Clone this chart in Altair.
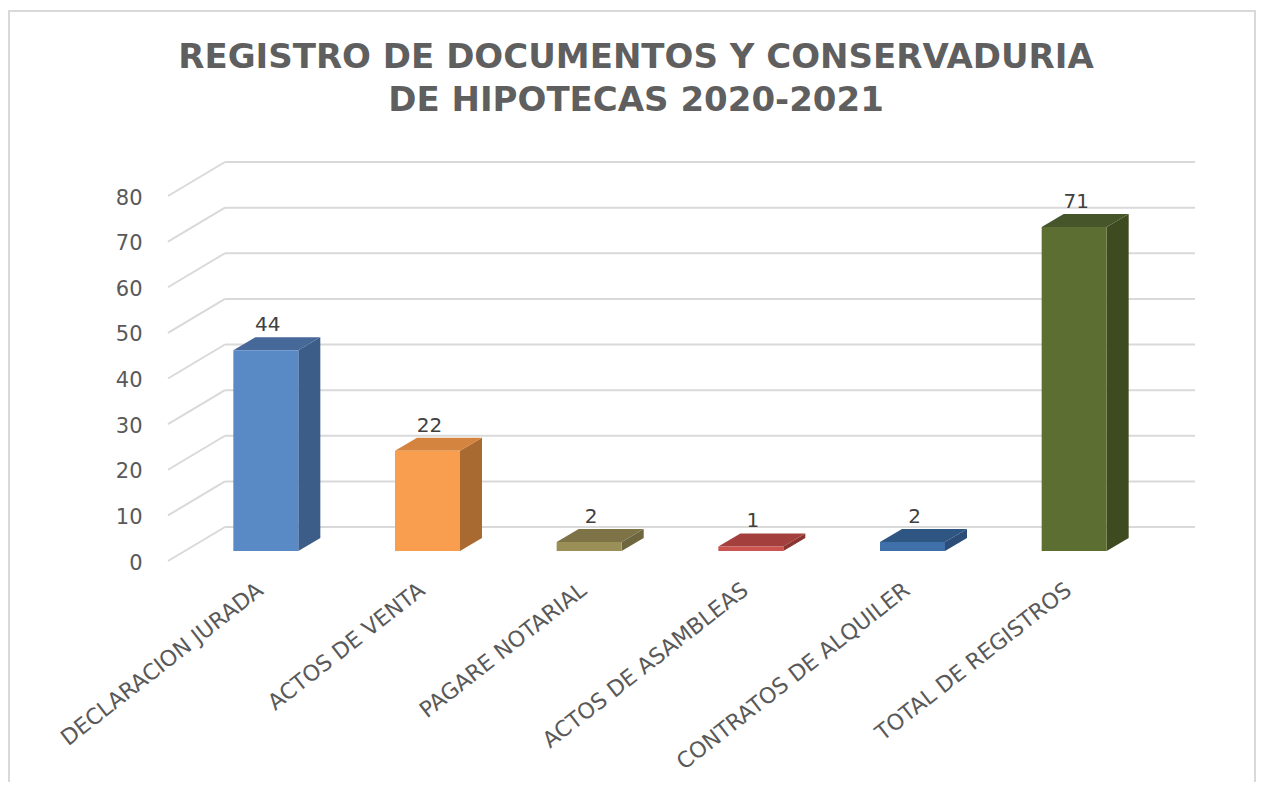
import json
import altair as alt
import pandas as pd

# ---------------- data ----------------
categories = ["DECLARACION JURADA", "ACTOS DE VENTA", "PAGARE NOTARIAL",
              "ACTOS DE ASAMBLEAS", "CONTRATOS DE ALQUILER", "TOTAL DE REGISTROS"]
values = [44, 22, 2, 1, 2, 71]
y_ticks = [0, 10, 20, 30, 40, 50, 60, 70, 80]
title_lines = ["REGISTRO DE DOCUMENTOS Y CONSERVADURIA", "DE HIPOTECAS 2020-2021"]

front_colors = ["#5a8ac6", "#f99d4f", "#9a9057", "#cc5450", "#4070aa", "#5c6e31"]
top_colors = ["#46699a", "#d5843f", "#7d7347", "#a3403d", "#2f5582", "#46562a"]
side_colors = ["#3b5d87", "#a96a31", "#6d663f", "#8b3533", "#2b4d78", "#3e4b20"]

# ---------------- geometry (pixels -> data units) ----------------
PX_X = 161.67          # pixels per category slot
PX_Y = 4.5625          # pixels per value unit
W = round(6 * PX_X)
H = round(80 * PX_Y)
WALL_DX = 57 / PX_X    # depth of the back wall
WALL_DY = 34 / PX_Y
BAR_SHIFT_X = 17 / PX_X
BAR_SHIFT_Y = 10 / PX_Y
BAR_HALF = 32.5 / PX_X
SIDE_DX = 22 / PX_X
SIDE_DY = 13 / PX_Y
LABEL_POS = 0.53

bars, side, top = [], [], []
for i, (c, v) in enumerate(zip(categories, values)):
    x0 = i + 0.5 + BAR_SHIFT_X - BAR_HALF
    x1 = i + 0.5 + BAR_SHIFT_X + BAR_HALF
    y0 = BAR_SHIFT_Y
    y1 = v + BAR_SHIFT_Y
    bars.append(dict(cat=c, v=v, x0=x0, x1=x1, y0=y0, y1=y1,
                     xc=(x0 + x1) / 2 + 2 / PX_X, yt=y1 + SIDE_DY,
                     c=front_colors[i]))
    side.append(dict(cat=c, x=x1, lo=y0, hi=y1, c=side_colors[i]))
    side.append(dict(cat=c, x=x1 + SIDE_DX, lo=y0 + SIDE_DY, hi=y1 + SIDE_DY, c=side_colors[i]))
    top.append(dict(cat=c, y=y1, xa=x0, xb=x1, c=top_colors[i]))
    top.append(dict(cat=c, y=y1 + SIDE_DY, xa=x0 + SIDE_DX, xb=x1 + SIDE_DX, c=top_colors[i]))

bars = pd.DataFrame(bars)
side = pd.DataFrame(side)
top = pd.DataFrame(top)
grid = pd.DataFrame(dict(t=y_ticks))
grid["front_x"] = 0.0
grid["back_x"] = WALL_DX
grid["end_x"] = 6 + WALL_DX
grid["back_t"] = grid["t"] + WALL_DY

xs = alt.Scale(domain=[0, 6], nice=False, zero=False)
ys = alt.Scale(domain=[0, 80], nice=False, zero=False)

label_expr = json.dumps(categories) + f"[round(datum.value - {LABEL_POS})]"
x_axis = alt.Axis(values=[i + LABEL_POS for i in range(6)], labelExpr=label_expr,
                  title=None, grid=False, ticks=False, domain=False,
                  labelAngle=-38, labelAlign="right", labelBaseline="top",
                  labelPadding=18, labelFont="DejaVu Sans", labelFontSize=22,
                  labelColor="#595959", labelOverlap=False, labelBound=False,
                  labelFlush=False, labelLimit=0)
y_axis = alt.Axis(values=y_ticks, title=None, grid=False, ticks=False, domain=False,
                  labelPadding=26, labelFont="DejaVu Sans", labelFontSize=21,
                  labelColor="#595959", labelOffset=2, labelOverlap=False,
                  labelBound=False, labelFlush=False)

border = alt.Chart(alt.Data(values=[{}])).mark_rect(
    filled=False, stroke="#d9d9d9", strokeWidth=2
).encode(x=alt.value(-159), x2=alt.value(W + 117), y=alt.value(-185), y2=alt.value(H + 240))

grid_back = alt.Chart(grid).mark_rule(color="#d9d9d9", strokeWidth=2).encode(
    x=alt.X("back_x:Q", scale=xs, axis=x_axis),
    x2="end_x:Q",
    y=alt.Y("back_t:Q", scale=ys, axis=y_axis),
)
grid_front = alt.Chart(grid).mark_rule(color="#d9d9d9", strokeWidth=2).encode(
    x=alt.X("front_x:Q", scale=xs, axis=x_axis),
    x2="back_x:Q",
    y=alt.Y("t:Q", scale=ys, axis=y_axis),
    y2="back_t:Q",
)
side_faces = alt.Chart(side).mark_area(orient="vertical").encode(
    x=alt.X("x:Q", scale=xs, axis=x_axis),
    y=alt.Y("hi:Q", scale=ys, axis=y_axis),
    y2="lo:Q",
    detail="cat:N",
    color=alt.Color("c:N", scale=None),
)
top_faces = alt.Chart(top).mark_area(orient="horizontal").encode(
    y=alt.Y("y:Q", scale=ys, axis=y_axis),
    x=alt.X("xa:Q", scale=xs, axis=x_axis),
    x2="xb:Q",
    detail="cat:N",
    color=alt.Color("c:N", scale=None),
)
front_faces = alt.Chart(bars).mark_rect().encode(
    x=alt.X("x0:Q", scale=xs, axis=x_axis),
    x2="x1:Q",
    y=alt.Y("y0:Q", scale=ys, axis=y_axis),
    y2="y1:Q",
    color=alt.Color("c:N", scale=None),
)
labels = alt.Chart(bars).mark_text(
    font="DejaVu Sans", fontSize=20, color="#404040", baseline="bottom", dy=-2
).encode(
    x=alt.X("xc:Q", scale=xs, axis=x_axis),
    y=alt.Y("yt:Q", scale=ys, axis=y_axis),
    text="v:Q",
)

chart = alt.layer(
    border, grid_back, grid_front, side_faces, top_faces, front_faces, labels
).properties(
    width=W, height=H,
    title=alt.TitleParams(text=title_lines, font="DejaVu Sans", fontWeight="bold",
                          fontSize=34, color="#5f5f5f", lineHeight=43,
                          anchor="middle", dx=-17, offset=-108),
    autosize=alt.AutoSizeParams(type="none"),
    padding={"left": 160, "top": 188, "right": 1248 - 160 - W, "bottom": 774 - 188 - H},
).configure_view(stroke=None)

chart.save("out.html", embed_options={"renderer": "svg", "actions": False})
